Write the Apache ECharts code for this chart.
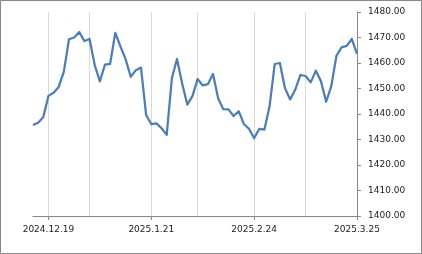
<!DOCTYPE html>
<html>
<head>
<meta charset="utf-8">
<script src="https://cdn.jsdelivr.net/npm/echarts@6/dist/echarts.min.js"></script>
<style>
html,body{margin:0;padding:0;background:#fff;}
#chart{width:422px;height:254px;}
</style>
</head>
<body>
<div id="chart"></div>
<script>
var dates = [
"2024.12.16","2024.12.17","2024.12.18","2024.12.19","2024.12.20","2024.12.23","2024.12.24","2024.12.26","2024.12.27","2024.12.30",
"2025.1.2","2025.1.3","2025.1.6","2025.1.7","2025.1.8","2025.1.9","2025.1.10","2025.1.13","2025.1.14","2025.1.15",
"2025.1.16","2025.1.17","2025.1.20","2025.1.21","2025.1.22","2025.1.23","2025.1.24","2025.1.31","2025.2.3","2025.2.4",
"2025.2.5","2025.2.6","2025.2.7","2025.2.10","2025.2.11","2025.2.12","2025.2.13","2025.2.14","2025.2.17","2025.2.18",
"2025.2.19","2025.2.20","2025.2.21","2025.2.24","2025.2.25","2025.2.26","2025.2.27","2025.2.28","2025.3.4","2025.3.5",
"2025.3.6","2025.3.7","2025.3.10","2025.3.11","2025.3.12","2025.3.13","2025.3.14","2025.3.17","2025.3.18","2025.3.19",
"2025.3.20","2025.3.21","2025.3.24","2025.3.25"
];
var values = [
1435.7,1436.6,1438.8,1447.1,1448.3,1450.6,1456.6,1469.3,1470.0,1472.1,
1468.6,1469.4,1459.2,1452.8,1459.4,1459.7,1471.8,1466.5,1461.5,1454.6,
1457.2,1458.2,1439.6,1436.0,1436.3,1434.4,1431.8,1454.0,1461.6,1452.0,
1443.7,1447.0,1453.7,1451.2,1451.7,1455.7,1446.2,1441.9,1441.8,1439.2,
1441.1,1436.1,1434.2,1430.5,1434.2,1433.9,1443.0,1459.6,1460.0,1450.1,
1445.7,1449.6,1455.3,1454.9,1452.4,1457.0,1452.8,1444.8,1450.9,1462.8,
1466.1,1466.7,1469.4,1463.6
];
var labelDates = ["2024.12.19","2025.1.21","2025.2.24","2025.3.25"];
var gridDates = ["2024.12.19","2025.1.3","2025.1.21","2025.2.7","2025.2.24","2025.3.11","2025.3.25"];
var yMin = 1400, yMax = 1480, yStep = 10;

var chart = echarts.init(document.getElementById('chart'), null, {renderer:'canvas'});
var font = '"DejaVu Sans", sans-serif';
chart.setOption({
  animation:false,
  backgroundColor:'#fff',
  grid:{left:33, right:65, top:12, bottom:38},
  graphic:[{type:'rect', shape:{x:0.5,y:0.5,width:421,height:253}, style:{fill:'none', stroke:'#888', lineWidth:1}, silent:true}],
  xAxis:{
    type:'category', data:dates, boundaryGap:false,
    axisLine:{lineStyle:{color:'#888', width:1}},
    axisTick:{show:true, length:4, lineStyle:{color:'#888'}, interval:function(i,v){return labelDates.indexOf(v)>=0;}},
    axisLabel:{interval:function(i,v){return labelDates.indexOf(v)>=0;}, color:'#222', fontSize:9, fontFamily:font, margin:9},
    splitLine:{show:true, lineStyle:{color:'#d9d9d9', width:1}, interval:function(i,v){return gridDates.indexOf(v)>=0;}}
  },
  yAxis:{
    type:'value', position:'right', min:yMin, max:yMax, interval:yStep,
    axisLine:{show:true, lineStyle:{color:'#888', width:1}},
    axisTick:{show:true, length:4, inside:false, lineStyle:{color:'#888'}},
    axisLabel:{color:'#222', fontSize:9, fontFamily:font, margin:11, formatter:function(v){return v.toFixed(2);}},
    splitLine:{show:false}
  },
  series:[{
    type:'line', data:values, symbol:'none', smooth:false,
    lineStyle:{color:'#4a7ebb', width:2.25, join:'round'}
  }]
});
</script>
</body>
</html>
